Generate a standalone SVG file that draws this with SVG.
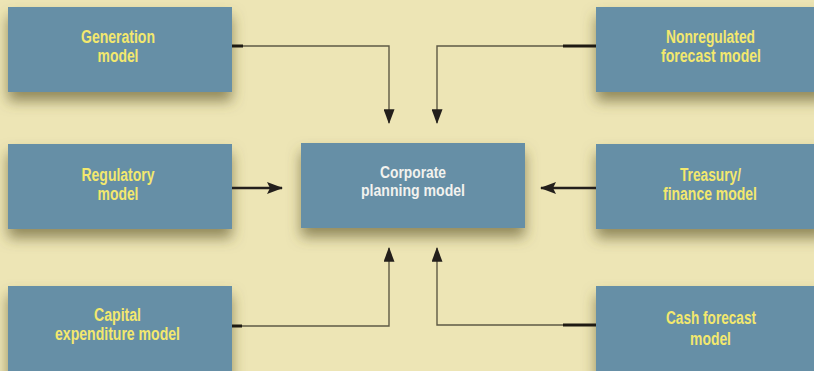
<svg xmlns="http://www.w3.org/2000/svg" width="814" height="371" viewBox="0 0 814 371">
<defs>
<filter id="sh" x="-20%" y="-30%" width="140%" height="170%">
<feDropShadow dx="0" dy="9" stdDeviation="7" flood-color="#5f562b" flood-opacity="0.65"/>
</filter>
<marker id="ah" viewBox="0 0 16 12" refX="15" refY="6" markerWidth="16" markerHeight="12" markerUnits="userSpaceOnUse" orient="auto">
<path d="M0,0 L16,6 L0,12 L3,6 Z" fill="#231f1c"/>
</marker>
<marker id="av" viewBox="0 0 16 12" refX="15" refY="6" markerWidth="15" markerHeight="11" markerUnits="userSpaceOnUse" orient="auto">
<path d="M0,0 L16,6 L0,12 Z" fill="#231f1c"/>
</marker>
<style>
rect.box{fill:#668fa6;filter:url(#sh);}
text{font-family:"Liberation Sans",Arial,sans-serif;font-weight:bold;font-size:17.5px;text-anchor:middle;}
text.y{fill:#f3e86e;}
text.w{fill:#f2f2ee;font-size:16px;}
.thin{fill:none;stroke:#5e5a45;stroke-width:1.4;}
.stub{fill:none;stroke:#1e1a12;stroke-width:3;}
.thick{fill:none;stroke:#231f1c;stroke-width:2.6;}
</style>
</defs>
<rect width="814" height="371" fill="#ede5b5"/>
<g id="generation"><rect class="box" x="8" y="7" width="224" height="85"/>
<text class="y" x="118" y="43" textLength="74" lengthAdjust="spacingAndGlyphs">Generation</text>
<text class="y" x="118" y="62" textLength="41" lengthAdjust="spacingAndGlyphs">model</text></g>
<g id="nonregulated"><rect class="box" x="596" y="7" width="230" height="85"/>
<text class="y" x="710.5" y="43" textLength="89" lengthAdjust="spacingAndGlyphs">Nonregulated</text>
<text class="y" x="711" y="62" textLength="100" lengthAdjust="spacingAndGlyphs">forecast model</text></g>
<g id="regulatory"><rect class="box" x="8" y="144" width="224" height="85"/>
<text class="y" x="118" y="181" textLength="73" lengthAdjust="spacingAndGlyphs">Regulatory</text>
<text class="y" x="118" y="200" textLength="41" lengthAdjust="spacingAndGlyphs">model</text></g>
<g id="corporate"><rect class="box" x="301" y="143" width="224" height="85"/>
<text class="w" x="413" y="177.5" textLength="66" lengthAdjust="spacingAndGlyphs">Corporate</text>
<text class="w" x="413" y="196" textLength="104" lengthAdjust="spacingAndGlyphs">planning model</text></g>
<g id="treasury"><rect class="box" x="596" y="144" width="230" height="85"/>
<text class="y" x="710.5" y="181" textLength="61" lengthAdjust="spacingAndGlyphs">Treasury/</text>
<text class="y" x="710" y="200" textLength="94" lengthAdjust="spacingAndGlyphs">finance model</text></g>
<g id="capital"><rect class="box" x="8" y="286" width="224" height="95"/>
<text class="y" x="117.5" y="321" textLength="47" lengthAdjust="spacingAndGlyphs">Capital</text>
<text class="y" x="117.5" y="340" textLength="125" lengthAdjust="spacingAndGlyphs">expenditure model</text></g>
<g id="cash"><rect class="box" x="596" y="286" width="230" height="95"/>
<text class="y" x="711" y="324" textLength="90" lengthAdjust="spacingAndGlyphs">Cash forecast</text>
<text class="y" x="710.5" y="345" textLength="41" lengthAdjust="spacingAndGlyphs">model</text></g>
<g id="connectors">
<path class="thin" d="M232,46 H389 V123" marker-end="url(#av)"/>
<path class="stub" d="M232,46 H243"/>
<path class="thin" d="M596,46 H437 V123" marker-end="url(#av)"/>
<path class="stub" d="M596,46 H563"/>
<path class="thick" d="M232,188 H282" marker-end="url(#ah)"/>
<path class="thick" d="M596,188 H541" marker-end="url(#ah)"/>
<path class="thin" d="M232,326 H389 V248" marker-end="url(#av)"/>
<path class="stub" d="M232,326 H242"/>
<path class="thin" d="M596,325 H437 V248" marker-end="url(#av)"/>
<path class="stub" d="M596,325 H563"/>
</g>
</svg>
